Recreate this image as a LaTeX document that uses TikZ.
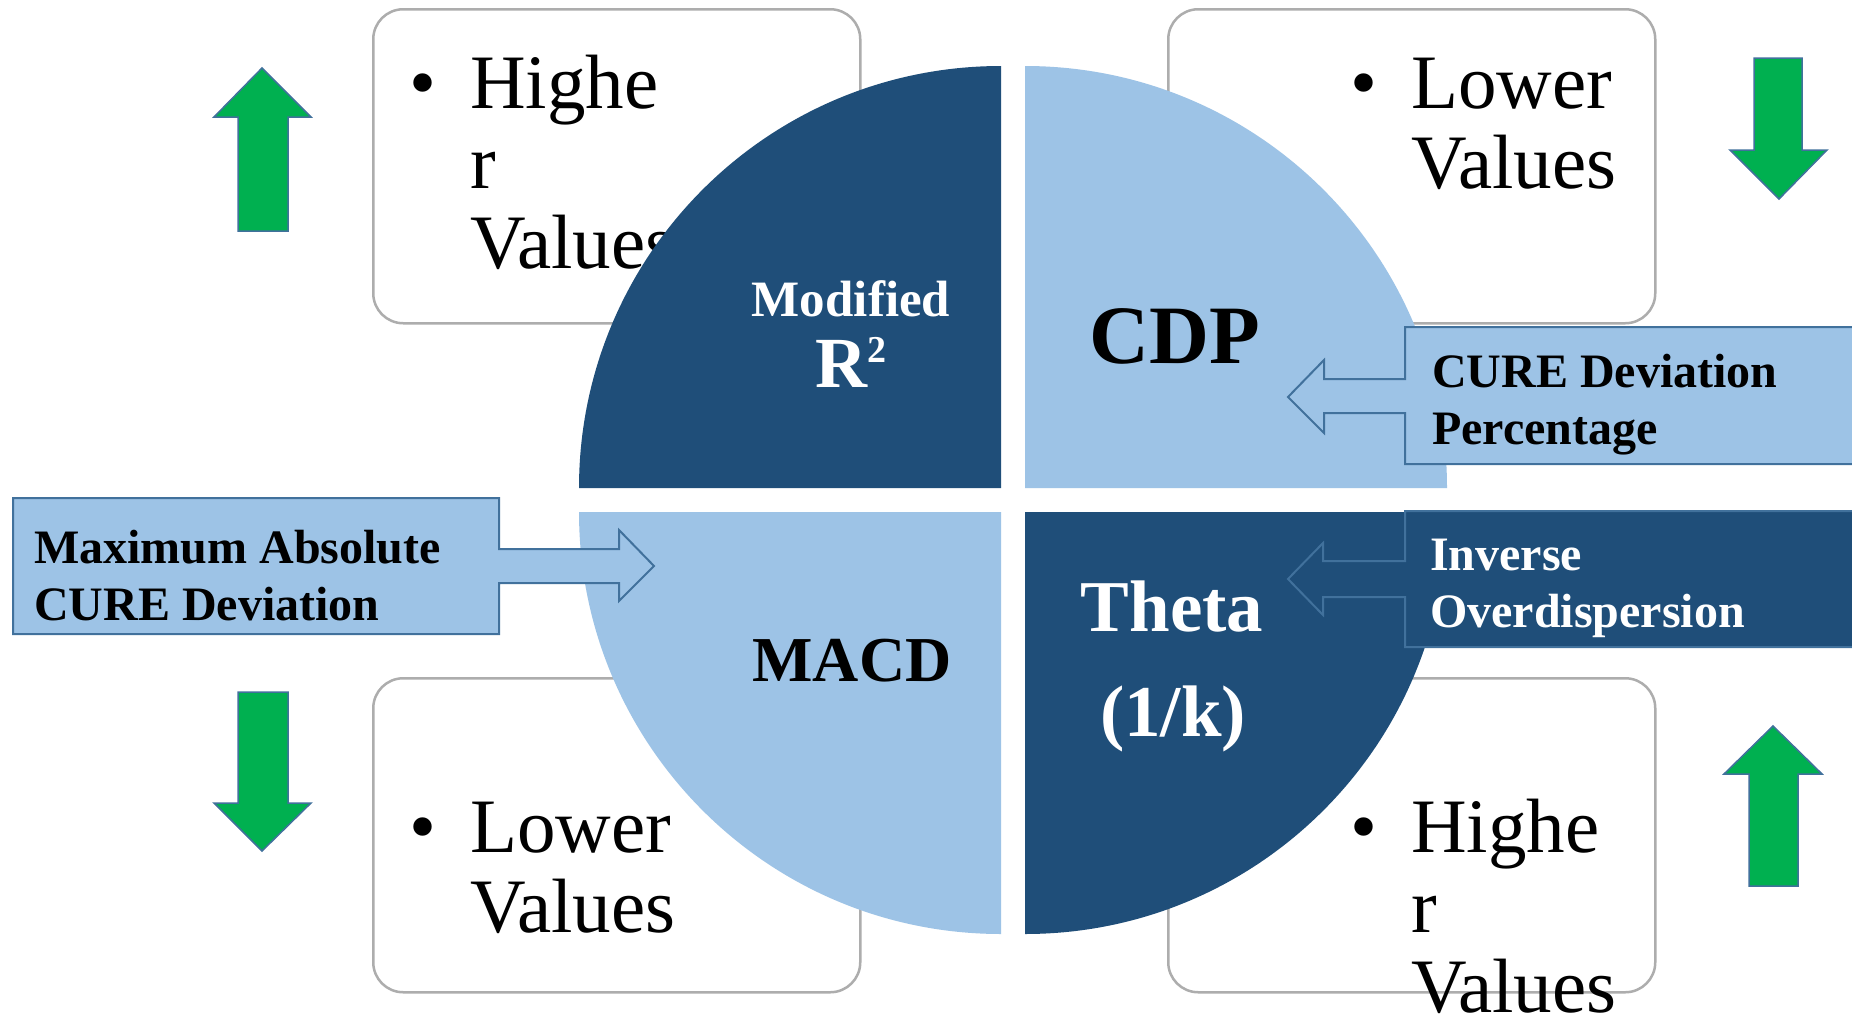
\documentclass[tikz,border=0pt]{standalone}
\usepackage{fontspec}
\setmainfont{Liberation Serif}
\definecolor{dkblue}{HTML}{1F4E79}
\definecolor{ltblue}{HTML}{9DC3E6}
\definecolor{edgeblue}{HTML}{41719C}
\definecolor{grn}{HTML}{00B050}
\definecolor{boxgray}{HTML}{ADADAD}
\tikzset{
  valbox/.style={draw=boxgray, line width=2.5pt, rounded corners=30pt, fill=white, anchor=north west, minimum width=487pt, minimum height=314pt, inner sep=0pt},
  valtext/.style={anchor=base west, inner sep=0pt, font=\fontsize{77}{80}\selectfont},
  bul/.style={anchor=base, inner sep=0pt, font=\fontsize{77}{80}\selectfont},
  greenarrow/.style={fill=grn, draw=edgeblue, line width=1.5pt, line join=miter},
  callout/.style={draw=edgeblue, line width=2pt, line join=miter},
  calltext/.style={anchor=base west, inner sep=0pt, font=\bfseries\fontsize{48}{57}\selectfont},
  qlabel/.style={anchor=base, inner sep=0pt},
}
\begin{document}
\begin{tikzpicture}[x=1pt,y=-1pt]
\useasboundingbox (0,0) rectangle (1852,1020);
\fill[white] (0,0) rectangle (1852,1020);

% value boxes
\node[valbox] (boxTL) at (372,8) {};
\node[valbox] (boxTR) at (1167,8) {};
\node[valbox] (boxBL) at (372,677) {};
\node[valbox] (boxBR) at (1167,677) {};

\node[bul] (bTL) at (423,108) {\textbullet};
\node[valtext] (tTL) at (470,108) {\parbox[t]{400pt}{\raggedright Highe\\r\\Values}};
\node[bul] (bTR) at (1364,108) {\textbullet};
\node[valtext] (tTR) at (1411,108) {\parbox[t]{400pt}{\raggedright Lower\\Values}};
\node[bul] (bBL) at (423,852) {\textbullet};
\node[valtext] (tBL) at (470,852) {\parbox[t]{400pt}{\raggedright Lower\\Values}};
\node[bul] (bBR) at (1364,852) {\textbullet};
\node[valtext] (tBR) at (1411,852) {\parbox[t]{400pt}{\raggedright Highe\\r\\Values}};

% green arrows
\draw[greenarrow] (238,231) -- (238,117) -- (214,117) -- (262,68) -- (311,117) -- (288,117) -- (288,231) -- cycle;
\draw[greenarrow] (238,692) -- (288,692) -- (288,803) -- (311,803) -- (262,851) -- (214,803) -- (238,803) -- cycle;
\draw[greenarrow] (1754,58) -- (1802,58) -- (1802,150) -- (1827,150) -- (1779,199) -- (1730,150) -- (1754,150) -- cycle;
\draw[greenarrow] (1749,886) -- (1749,774) -- (1724,774) -- (1773,726) -- (1822,774) -- (1798,774) -- (1798,886) -- cycle;

% quadrants
\fill[dkblue] (1001,488) -- (579,488) arc[start angle=180, end angle=270, radius=422] -- cycle;
\fill[ltblue] (1025,488) -- (1025,66) arc[start angle=270, end angle=360, radius=422] -- cycle;
\fill[dkblue] (1025,512) -- (1447,512) arc[start angle=0, end angle=90, radius=422] -- cycle;
\fill[ltblue] (1001,512) -- (1001,934) arc[start angle=90, end angle=180, radius=422] -- cycle;

% quadrant labels
\node[qlabel, text=white, font=\bfseries\fontsize{51}{55}\selectfont] (lMod) at (851,316) {Modified};
\node[qlabel, text=white, font=\bfseries\fontsize{72}{75}\selectfont] (lR) at (851,387) {R{\fontsize{38}{38}\selectfont\raisebox{25pt}{2}}};
\node[qlabel, text=black, font=\bfseries\fontsize{83}{88}\selectfont] (lCDP) at (1175,363) {CDP};
\node[qlabel, text=black, font=\bfseries\fontsize{64}{68}\selectfont] (lMACD) at (852,681) {MACD};
\node[qlabel, text=white, font=\bfseries\fontsize{73}{78}\selectfont] (lTheta) at (1172,631) {Theta};
\node[qlabel, text=white, font=\bfseries\fontsize{73}{78}\selectfont] (lK) at (1173,736) {(1/k)};

% callouts
\draw[callout, fill=ltblue] (1405,327) -- (1862,327) -- (1862,464) -- (1405,464) -- (1405,413) -- (1324,413) -- (1324,433) -- (1288,397) -- (1324,360) -- (1324,379) -- (1405,379) -- cycle;
\node[calltext] (cCDP) at (1432,387) {\parbox[t]{420pt}{\raggedright CURE Deviation\\Percentage}};

\draw[callout, fill=dkblue] (1405,511) -- (1862,511) -- (1862,647) -- (1405,647) -- (1405,597) -- (1323,597) -- (1323,615) -- (1288,579) -- (1323,543) -- (1323,561) -- (1405,561) -- cycle;
\node[calltext, text=white] (cTheta) at (1430,570) {\parbox[t]{420pt}{\raggedright Inverse\\Overdispersion}};

\draw[callout, fill=ltblue] (13,498) -- (499,498) -- (499,549) -- (619,549) -- (619,530) -- (654,566) -- (619,601) -- (619,583) -- (499,583) -- (499,634) -- (13,634) -- cycle;
\node[calltext] (cMACD) at (34,563) {\parbox[t]{460pt}{\raggedright Maximum Absolute\\CURE Deviation}};
\end{tikzpicture}
\end{document}
